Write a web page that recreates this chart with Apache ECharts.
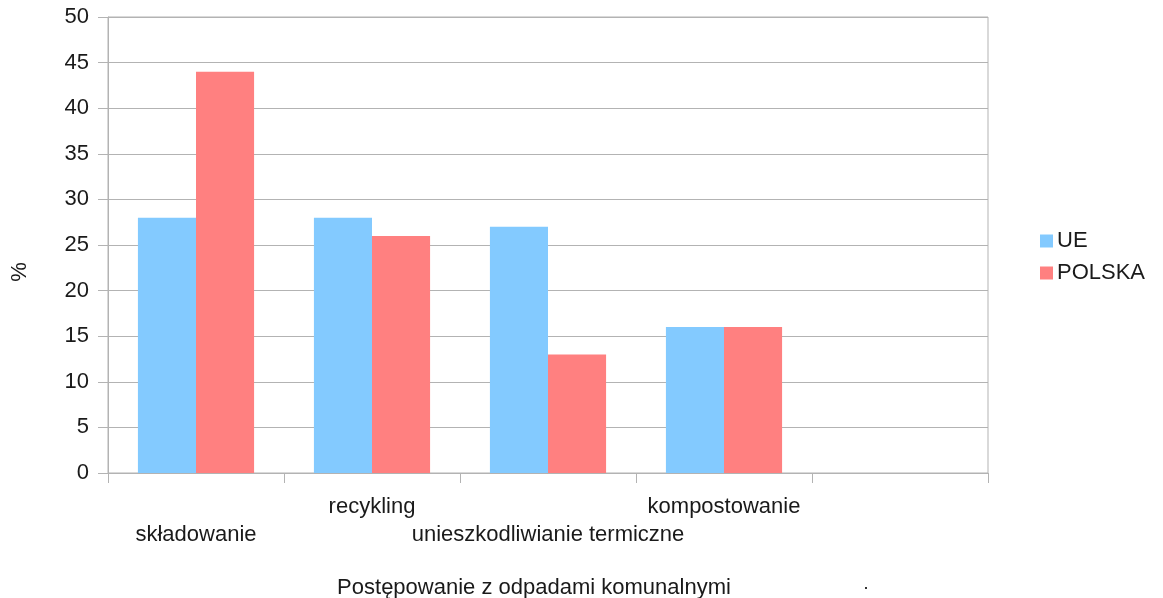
<!DOCTYPE html>
<html>
<head>
<meta charset="utf-8">
<script src="https://cdn.jsdelivr.net/npm/echarts@6/dist/echarts.min.js"></script>
<style>
  html, body { margin: 0; padding: 0; background: #fff; }
  #chart { width: 1163px; height: 598px; }
</style>
</head>
<body>
<div id="chart"></div>
<script>
// dane
var categories = ['składowanie', 'recykling', 'unieszkodliwianie termiczne', 'kompostowanie', ''];
var ueValues = [28, 28, 27, 16, null];
var polskaValues = [44, 26, 13, 16, null];
var yTicks = { min: 0, max: 50, interval: 5 };

var chart = echarts.init(document.getElementById('chart'));
var font = '"Liberation Sans", Arial, sans-serif';
var gridColor = '#b3b3b3';
var txt = '#1a1a1a';

chart.setOption({
  animation: false,
  textStyle: { fontFamily: font, color: txt },
  color: ['#83caff', '#ff8080'],
  grid: {
    left: 108, right: 175, top: 17, bottom: 125,
    outerBoundsMode: 'none',
    containLabel: false,
    show: true, borderColor: gridColor, borderWidth: 1
  },
  legend: {
    orient: 'vertical',
    left: 1040, top: 230, padding: 0,
    itemWidth: 13, itemHeight: 13, itemGap: 10,
    icon: 'rect',
    textStyle: { fontSize: 22, color: txt, fontFamily: font, lineHeight: 22, padding: [0, 0, 0, -1] },
    data: ['UE', 'POLSKA']
  },
  xAxis: {
    type: 'category',
    data: categories,
    name: 'Postępowanie z odpadami komunalnymi',
    nameLocation: 'middle',
    nameGap: 104,
    nameTextStyle: { fontSize: 22, color: txt, padding: [0, 28, 0, 0] },
    axisLine: { lineStyle: { color: gridColor } },
    axisTick: { show: true, length: 10, lineStyle: { color: gridColor } },
    axisLabel: {
      interval: 0,
      fontSize: 22,
      color: txt,
      margin: 20,
      lineHeight: 28,
      formatter: function (v, i) { return i % 2 === 0 ? '\n' + v : v; }
    }
  },
  yAxis: {
    type: 'value',
    min: yTicks.min, max: yTicks.max, interval: yTicks.interval,
    axisLine: { show: true, lineStyle: { color: gridColor } },
    axisTick: { show: true, length: 10, lineStyle: { color: gridColor } },
    axisLabel: { fontSize: 22, color: txt, margin: 19 },
    splitLine: { lineStyle: { color: gridColor } }
  },
  series: [
    { name: 'UE', type: 'bar', data: ueValues, barGap: '0%', barCategoryGap: '34%' },
    { name: 'POLSKA', type: 'bar', data: polskaValues, barGap: '0%', barCategoryGap: '34%' }
  ],
  graphic: [
    // nazwa osi Y
    {
      type: 'text', x: 20, y: 272, rotation: Math.PI / 2,
      style: { text: '%', font: '22px ' + font, fill: txt, align: 'center', verticalAlign: 'middle' }
    },
    { type: 'rect', left: 865, top: 587, shape: { width: 2, height: 2 }, style: { fill: '#333' } }
  ]
});
</script>
</body>
</html>
